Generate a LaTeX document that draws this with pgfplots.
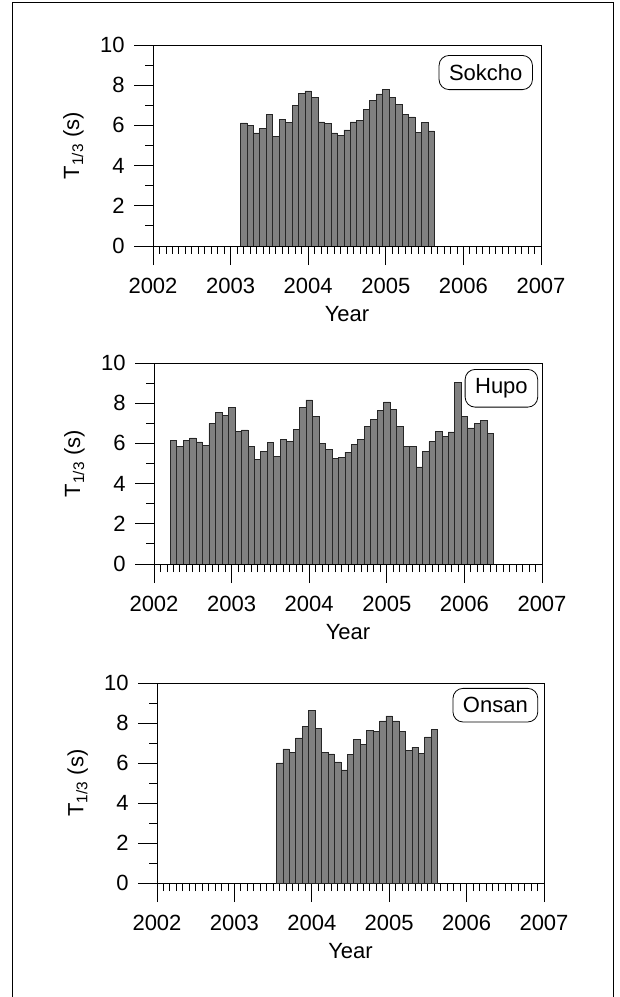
\documentclass[border=0pt]{standalone}
\usepackage{pgfplots}
\pgfplotsset{compat=1.18}
\usepackage{fontspec}
\setmainfont{Liberation Sans}
\definecolor{barfill}{gray}{0.5}
\begin{document}
\begin{tikzpicture}
\tikzset{
  sitebox/.style={draw, rounded corners=10pt, line width=0.8pt, anchor=north east,
    font=\fontsize{22}{25}\selectfont, inner xsep=10pt, inner ysep=9pt},
}
\pgfplotsset{
  wavepanel/.style={
    scale only axis, width=388pt, height=201pt,
    xmin=2002, xmax=2007, ymin=0, ymax=10,
    xtick={2002,2003,2004,2005,2006,2007}, ytick={0,2,4,6,8,10},
    minor x tick num=11, minor y tick num=1,
    tick align=outside, tick pos=left,
    major tick length=19pt, minor tick length=8pt,
    every tick/.style={black, line width=0.8pt},
    axis line style={line width=0.9pt},
    ticklabel style={font=\fontsize{22}{25}\selectfont},
    xticklabel style={yshift=-10pt},
    yticklabel style={xshift=-6pt},
    /pgf/number format/assume math mode=true,
    /pgf/number format/1000 sep={},
    xlabel=Year, ylabel={T\textsubscript{1/3} (s)},
    label style={font=\fontsize{22}{25}\selectfont},
    xlabel style={at={(axis description cs:0.5,-0.338)}, anchor=center},
    ylabel style={at={(axis description cs:-0.205,0.5)}, anchor=center},
    anchor=south west,
  },
  wavebars/.style={ybar, bar width=0.08333, fill=barfill, draw=black!85, line width=0.5pt},
}
\path[use as bounding box] (0pt,0pt) rectangle (620pt,997pt);
\draw[line width=0.9pt] (12pt,0pt) -- (12pt,995pt) -- (613pt,995pt) -- (613pt,0pt);

% Sokcho
\begin{axis}[wavepanel, at={(153pt,751pt)}]
\addplot[wavebars] coordinates {
(2003.1667,6.13) (2003.2500,6.00) (2003.3333,5.63) (2003.4167,5.85) (2003.5000,6.56)
(2003.5833,5.47) (2003.6667,6.31) (2003.7500,6.16) (2003.8333,7.01) (2003.9167,7.61)
(2004.0000,7.72) (2004.0833,7.39) (2004.1667,6.18) (2004.2500,6.11) (2004.3333,5.63)
(2004.4167,5.51) (2004.5000,5.78) (2004.5833,6.18) (2004.6667,6.25) (2004.7500,6.81)
(2004.8333,7.24) (2004.9167,7.57) (2005.0000,7.81) (2005.0833,7.39) (2005.1667,7.06)
(2005.2500,6.53) (2005.3333,6.43) (2005.4167,5.65) (2005.5000,6.16) (2005.5833,5.73)
};
\node[sitebox] at (rel axis cs:0.979,0.95) {Sokcho};
\end{axis}

% Hupo
\begin{axis}[wavepanel, at={(154pt,433pt)}]
\addplot[wavebars] coordinates {
(2002.2500,6.14) (2002.3333,5.84) (2002.4167,6.14) (2002.5000,6.27) (2002.5833,6.07)
(2002.6667,5.90) (2002.7500,6.98) (2002.8333,7.53) (2002.9167,7.38) (2003.0000,7.78)
(2003.0833,6.58) (2003.1667,6.67) (2003.2500,5.85) (2003.3333,5.19) (2003.4167,5.62)
(2003.5000,6.04) (2003.5833,5.36) (2003.6667,6.20) (2003.7500,6.10) (2003.8333,6.70)
(2003.9167,7.81) (2004.0000,8.16) (2004.0833,7.35) (2004.1667,5.99) (2004.2500,5.70)
(2004.3333,5.27) (2004.4167,5.29) (2004.5000,5.56) (2004.5833,5.97) (2004.6667,6.20)
(2004.7500,6.83) (2004.8333,7.20) (2004.9167,7.65) (2005.0000,8.06) (2005.0833,7.71)
(2005.1667,6.85) (2005.2500,5.85) (2005.3333,5.85) (2005.4167,4.83) (2005.5000,5.59)
(2005.5833,6.09) (2005.6667,6.58) (2005.7500,6.35) (2005.8333,6.57) (2005.9167,9.04)
(2006.0000,7.35) (2006.0833,6.77) (2006.1667,7.00) (2006.2500,7.15) (2006.3333,6.48)
};
\node[sitebox] at (rel axis cs:0.99,0.97) {Hupo};
\end{axis}

% Onsan
\begin{axis}[wavepanel, at={(157pt,114pt)}, width=387pt, height=200pt]
\addplot[wavebars] coordinates {
(2003.5833,6.01) (2003.6667,6.71) (2003.7500,6.53) (2003.8333,7.26) (2003.9167,7.82)
(2004.0000,8.64) (2004.0833,7.72) (2004.1667,6.53) (2004.2500,6.46) (2004.3333,6.06)
(2004.4167,5.65) (2004.5000,6.43) (2004.5833,7.19) (2004.6667,6.94) (2004.7500,7.64)
(2004.8333,7.59) (2004.9167,8.11) (2005.0000,8.36) (2005.0833,8.11) (2005.1667,7.57)
(2005.2500,6.64) (2005.3333,6.79) (2005.4167,6.48) (2005.5000,7.31) (2005.5833,7.69)
};
\node[sitebox] at (rel axis cs:0.985,0.975) {Onsan};
\end{axis}
\end{tikzpicture}
\end{document}
